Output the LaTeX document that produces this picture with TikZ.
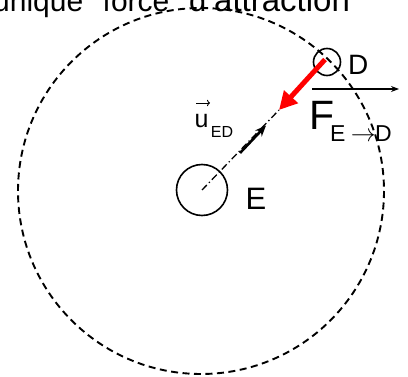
\documentclass[tikz,border=0pt]{standalone}
\usepackage{fontspec}
\setmainfont{Liberation Sans}
\usetikzlibrary{arrows.meta}
\begin{document}
\begin{tikzpicture}[x=1pt,y=-1pt,
  txt/.style={inner sep=0pt, anchor=base west},
  orbit/.style={draw, line width=1.9pt, dash pattern=on 7pt off 4.5pt},
  body/.style={draw, circle, line width=1.6pt, inner sep=0pt},
  axisline/.style={line width=1.3pt, dash pattern=on 7pt off 3pt on 1.3pt off 3pt},
]
\clip (0,0) rectangle (408,377);
\coordinate (O) at (201,191);
\draw[orbit] (O) circle[radius=183];
% bodies
\node[body, minimum size=51pt] (E) at (202,190) {};
\node[body, minimum size=27pt] (D) at (327,62) {};
% axis E -> D
\coordinate (T) at (279,110);
\draw[axisline] (E.center) -- (T);
% unit vector
\coordinate (u1) at (240,153);
\coordinate (u2) at (266,125.5);
\draw[line width=2.6pt, -{Stealth[length=11pt,width=9pt]}] (u1) -- (u2);
% force
\coordinate (Ds) at (325,59.5);
\draw[red, line width=5pt, -{Triangle[length=18pt,width=18pt]}] (Ds) -- (T);
% vector arrow over F
\coordinate (f1) at (312,89);
\coordinate (f2) at (399,89);
\draw[line width=1.1pt, -{Stealth[length=8pt,width=6pt]}] (f1) -- (f2);
% texts
\node[txt, font=\fontsize{41}{41}\selectfont] (F) at (309.5,130) {F};
\node[txt, font=\fontsize{23}{23}\selectfont] (Fe) at (330,141.7) {E};
\node[anchor=base, inner sep=0pt, font=\fontsize{23}{23}\selectfont] (Far) at (363.4,141.7) {\(\rightarrow\)};
\node[txt, font=\fontsize{23}{23}\selectfont] (Fd) at (375,141.7) {D};
\node[txt, font=\fontsize{28}{28}\selectfont] (Dl) at (347.8,75) {D};
\node[txt, font=\fontsize{31}{31}\selectfont] (El) at (245.5,209.5) {E};
\node[txt, font=\fontsize{25}{25}\selectfont] (ul) at (194.5,128) {u};
\node[txt, font=\fontsize{16}{16}\selectfont] (ued) at (210.7,137.3) {ED};
\coordinate (v1) at (196,103);
\coordinate (v2) at (210,103);
\draw[line width=0.9pt, -{To[length=3pt]}] (v1) -- (v2);
% cut title
\node[txt, font=\fontsize{30}{30}\selectfont] (t1) at (-7,11.5) {unique};
\node[txt, font=\fontsize{30}{30}\selectfont] (t2) at (102.5,11.5) {force};
\node[txt, font=\fontsize{31}{31}\selectfont] (t3) at (189,11.5) {d'};
\node[txt, font=\fontsize{33}{33}\selectfont] (t4) at (214,11.5) {attraction};
\end{tikzpicture}
\end{document}
